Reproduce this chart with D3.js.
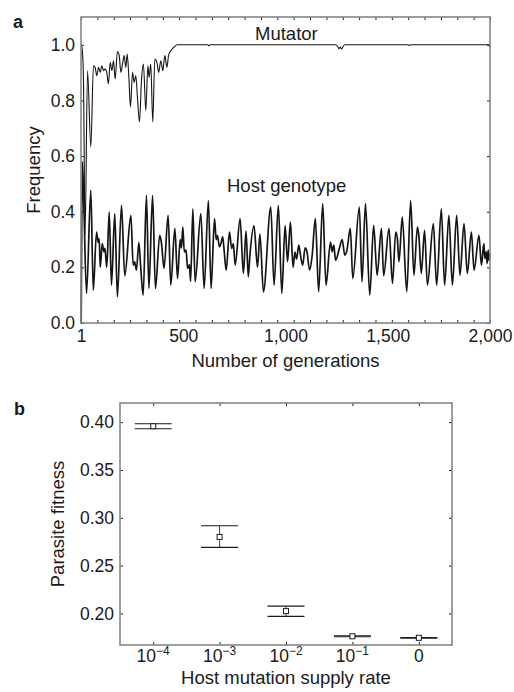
<!DOCTYPE html>
<html>
<head>
<meta charset="utf-8">
<script src="https://cdn.jsdelivr.net/npm/d3@7"></script>
<style>
  body { margin: 0; background: #fff; }
  text { font-family: "Liberation Sans", Arial, Helvetica, sans-serif; fill: #1a1a1a; }
</style>
</head>
<body>
<svg id="fig" width="514" height="692"></svg>
<script>
// ---- panel a: frequencies over generations
var mutatorGen = [1, 5, 12, 20, 32, 48, 61, 69, 77, 86, 94, 102, 110, 118, 126, 134, 143, 151, 159, 167,
  178, 187, 195, 203, 211, 219, 226, 234, 242, 252, 260, 268, 276, 286, 296, 305, 317, 327, 333, 341,
  351, 361, 371, 380, 390, 400, 410, 420, 428, 439, 452, 472, 620, 625, 630, 1245, 1255, 1262, 1268,
  1274, 1282, 1290, 1600, 1605, 1610, 1995, 1998, 2000];
var mutatorFreq = [1.0, 0.99, 0.88, 0.32, 0.907, 0.633, 0.925, 0.919, 0.889, 0.919, 0.901, 0.925, 0.907, 0.913, 0.901, 0.86, 0.937, 0.907, 0.943, 0.877,
  0.976, 0.961, 0.901, 0.931, 0.961, 0.919, 0.967, 0.883, 0.776, 0.901, 0.865, 0.889, 0.812, 0.723, 0.877, 0.931, 0.764, 0.925, 0.883, 0.931,
  0.723, 0.949, 0.937, 0.901, 0.943, 0.907, 0.961, 0.919, 0.961, 0.979, 0.99, 1.0, 1.0, 0.996, 1.0, 1.0, 0.994, 0.986, 0.992,
  0.984, 0.995, 1.0, 1.0, 0.997, 1.0, 1.0, 0.993, 1.0];

var hostGen = [1, 7, 14, 27, 48, 60, 76, 84, 89, 94, 104, 112, 117, 126, 138, 149, 165, 178, 198, 214,
  244, 255, 262, 271, 283, 292, 304, 320, 332, 350, 364, 385, 393, 406, 426, 439, 459, 472, 485, 491,
  498, 505, 514, 521, 530, 536, 547, 558, 586, 602, 623, 636, 653, 661, 667, 677, 684, 693, 699, 710,
  726, 737, 745, 754, 778, 794, 807, 818, 826, 846, 863, 875, 892, 928, 944, 965, 982, 998, 1010, 1024,
  1037, 1046, 1054, 1065, 1072, 1084, 1096, 1104, 1118, 1130, 1146, 1162, 1182, 1198, 1220, 1228, 1236, 1245, 1263, 1277,
  1290, 1300, 1317, 1329, 1361, 1374, 1391, 1412, 1431, 1448, 1469, 1480, 1506, 1523, 1539, 1547, 1555, 1571, 1593, 1612,
  1628, 1645, 1652, 1664, 1680, 1694, 1723, 1739, 1762, 1778, 1799, 1816, 1837, 1853, 1873, 1889, 1909, 1922, 1946, 1958,
  1970, 1975, 1981, 1986, 1991, 1995, 2000];
var hostFreq = [0.0, 0.58, 0.42, 0.106, 0.477, 0.118, 0.327, 0.29, 0.303, 0.2, 0.285, 0.256, 0.268, 0.2, 0.399, 0.136, 0.393, 0.094, 0.423, 0.17,
  0.387, 0.208, 0.22, 0.19, 0.29, 0.2, 0.1, 0.459, 0.124, 0.459, 0.124, 0.315, 0.29, 0.196, 0.387, 0.136, 0.34, 0.16, 0.30, 0.27,
  0.345, 0.256, 0.262, 0.196, 0.21, 0.15, 0.41, 0.148, 0.393, 0.124, 0.44, 0.124, 0.375, 0.3, 0.315, 0.274, 0.285, 0.31, 0.268, 0.19,
  0.327, 0.268, 0.285, 0.208, 0.375, 0.178, 0.33, 0.166, 0.244, 0.35, 0.2, 0.32, 0.112, 0.417, 0.136, 0.423, 0.106, 0.35, 0.22, 0.363,
  0.2, 0.255, 0.23, 0.28, 0.25, 0.208, 0.27, 0.26, 0.19, 0.24, 0.375, 0.112, 0.429, 0.136, 0.291, 0.256, 0.28, 0.225, 0.267, 0.3,
  0.244, 0.26, 0.34, 0.16, 0.417, 0.148, 0.429, 0.1, 0.351, 0.172, 0.34, 0.17, 0.34, 0.142, 0.327, 0.303, 0.22, 0.381, 0.112, 0.44,
  0.172, 0.345, 0.315, 0.178, 0.333, 0.136, 0.357, 0.136, 0.41, 0.136, 0.387, 0.136, 0.387, 0.172, 0.357, 0.178, 0.327, 0.19, 0.315, 0.208,
  0.285, 0.232, 0.256, 0.214, 0.262, 0.225, 0.25];

var genTicks = [1, 500, 1000, 1500, 2000];
var genTickLabels = ["1", "500", "1,000", "1,500", "2,000"];
var genMinorTicks = d3.range(0, 2001, 80);
var freqTicks = [0, 0.2, 0.4, 0.6, 0.8, 1.0];

// ---- panel b: parasite fitness per host mutation supply rate
var rateBase = ["10", "10", "10", "10", "0"];
var rateExp = ["\u22124", "\u22123", "\u22122", "\u22121", ""];
var fitMean = [0.3957, 0.280, 0.2024, 0.1761, 0.1745];
var fitLow = [0.3931, 0.2691, 0.1969, 0.1756, 0.1742];
var fitHigh = [0.3983, 0.2917, 0.2076, 0.1766, 0.1748];
var fitTicks = [0.20, 0.25, 0.30, 0.35, 0.40];

var svg = d3.select("#fig");
var frameColor = "#858585";

// inward ticks on all four sides + a grey frame
function frame(left, right, top, bottom, xScale, xVals, yScale, yVals) {
  var g = svg.append("g");
  g.append("g").attr("transform", "translate(0," + bottom + ")")
    .call(d3.axisBottom(xScale).tickValues(xVals).tickSize(-3).tickFormat(""));
  g.append("g").attr("transform", "translate(0," + top + ")")
    .call(d3.axisTop(xScale).tickValues(xVals).tickSize(-3).tickFormat(""));
  g.append("g").attr("transform", "translate(" + left + ",0)")
    .call(d3.axisLeft(yScale).tickValues(yVals).tickSize(-3).tickFormat(""));
  g.append("g").attr("transform", "translate(" + right + ",0)")
    .call(d3.axisRight(yScale).tickValues(yVals).tickSize(-3).tickFormat(""));
  g.selectAll(".domain").remove();
  g.selectAll(".tick line").attr("stroke", "#222").attr("stroke-width", 1);
  g.append("rect")
    .attr("x", left).attr("y", top)
    .attr("width", right - left).attr("height", bottom - top)
    .attr("fill", "none").attr("stroke", frameColor).attr("stroke-width", 1.6);
}

// ================= panel a
var aL = 81, aR = 490, aT = 17, aB = 323;
var x = d3.scaleLinear().domain([0, 2000]).range([aL, aR]);
var y = d3.scaleLinear().domain([0, 1.1]).range([aB, aT]);

var line = d3.line()
  .x(function (d) { return x(d[0]); })
  .y(function (d) { return y(d[1]); })
  .curve(d3.curveMonotoneX);

var hostData = hostGen.map(function (g, i) { return [g, hostFreq[i]]; });
var mutData = mutatorGen.map(function (g, i) { return [g, mutatorFreq[i]]; });

svg.append("path").datum(hostData)
  .attr("d", line).attr("fill", "none")
  .attr("stroke", "#151515").attr("stroke-width", 1.7).attr("stroke-linejoin", "round");
svg.append("path").datum(mutData)
  .attr("d", line).attr("fill", "none")
  .attr("stroke", "#151515").attr("stroke-width", 1.1).attr("stroke-linejoin", "round");

frame(aL, aR, aT, aB, x, genMinorTicks, y, freqTicks);

// tick labels
var xLab = svg.append("g").attr("transform", "translate(0," + aB + ")")
  .call(d3.axisBottom(x).tickValues(genTicks).tickSize(0).tickPadding(7)
    .tickFormat(function (d, i) { return genTickLabels[i]; }));
var yLab = svg.append("g").attr("transform", "translate(" + aL + ",0)")
  .call(d3.axisLeft(y).tickValues(freqTicks).tickSize(0).tickPadding(6)
    .tickFormat(d3.format(".1f")));
[xLab, yLab].forEach(function (g) {
  g.select(".domain").remove();
  g.selectAll("text").style("font-size", "17.5px").attr("fill", "#1a1a1a");
});

svg.append("text")
  .attr("x", (aL + aR) / 2).attr("y", 367)
  .style("text-anchor", "middle").style("font-size", "18.5px")
  .text("Number of generations");
svg.append("text")
  .attr("transform", "rotate(-90)")
  .attr("x", -(aT + aB) / 2).attr("y", 40)
  .style("text-anchor", "middle").style("font-size", "18.5px")
  .text("Frequency");
svg.append("text").attr("x", 255).attr("y", 40)
  .style("font-size", "18.5px").text("Mutator");
svg.append("text").attr("x", 227).attr("y", 192)
  .style("font-size", "18.5px").text("Host genotype");
svg.append("text").attr("x", 13).attr("y", 28)
  .style("font-size", "18px").style("font-weight", "bold").text("a");

// ================= panel b
var bL = 120, bR = 452, bT = 403, bB = 645;
var xb = d3.scalePoint().domain(d3.range(rateBase.length)).range([bL, bR]).padding(0.5);
var yb = d3.scaleLinear().domain([0.167, 0.42]).range([bB, bT]);

frame(bL, bR, bT, bB, xb, d3.range(rateBase.length), yb, fitTicks);

var bars = svg.append("g").selectAll("g")
  .data(fitMean).enter().append("g");
bars.append("line")
  .attr("x1", function (d, i) { return xb(i); })
  .attr("x2", function (d, i) { return xb(i); })
  .attr("y1", function (d, i) { return yb(fitLow[i]); })
  .attr("y2", function (d, i) { return yb(fitHigh[i]); })
  .attr("stroke", "#444").attr("stroke-width", 1);
[fitLow, fitHigh].forEach(function (arr) {
  bars.append("line")
    .attr("x1", function (d, i) { return xb(i) - 18.5; })
    .attr("x2", function (d, i) { return xb(i) + 18.5; })
    .attr("y1", function (d, i) { return yb(arr[i]); })
    .attr("y2", function (d, i) { return yb(arr[i]); })
    .attr("stroke", "#1a1a1a").attr("stroke-width", 1.1);
});
bars.append("rect")
  .attr("x", function (d, i) { return xb(i) - 2.5; })
  .attr("y", function (d) { return yb(d) - 2.5; })
  .attr("width", 5).attr("height", 5)
  .attr("fill", "#fff").attr("stroke", "#1a1a1a").attr("stroke-width", 1);

var ybLab = svg.append("g").attr("transform", "translate(" + bL + ",0)")
  .call(d3.axisLeft(yb).tickValues(fitTicks).tickSize(0).tickPadding(6)
    .tickFormat(d3.format(".2f")));
ybLab.select(".domain").remove();
ybLab.selectAll("text").style("font-size", "17.5px").attr("fill", "#1a1a1a");

var rl = svg.append("g").selectAll("text")
  .data(rateBase).enter().append("text")
  .attr("x", function (d, i) { return xb(i); })
  .attr("y", 662)
  .style("text-anchor", "middle").style("font-size", "17.5px");
rl.append("tspan").text(function (d) { return d; });
rl.append("tspan")
  .attr("dy", -7).style("font-size", "12px")
  .text(function (d, i) { return rateExp[i]; });

svg.append("text")
  .attr("x", (bL + bR) / 2).attr("y", 684)
  .style("text-anchor", "middle").style("font-size", "18.5px")
  .text("Host mutation supply rate");
svg.append("text")
  .attr("transform", "rotate(-90)")
  .attr("x", -(bT + bB) / 2).attr("y", 64)
  .style("text-anchor", "middle").style("font-size", "18.5px")
  .text("Parasite fitness");
svg.append("text").attr("x", 14).attr("y", 415)
  .style("font-size", "18px").style("font-weight", "bold").text("b");
</script>
</body>
</html>
